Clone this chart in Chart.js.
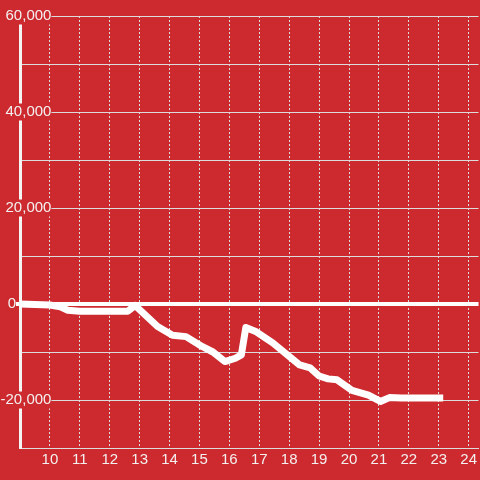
<!DOCTYPE html>
<html>
<head>
<meta charset="utf-8">
<script src="https://cdn.jsdelivr.net/npm/chart.js@4"></script>
<style>
  html, body { margin: 0; padding: 0; background: #cc2a2e; }
  #wrap { width: 480px; height: 480px; }
</style>
</head>
<body>
<div id="wrap"><canvas id="balanceChart"></canvas></div>
<script>
// hour of day and running balance
const hours = [9.0, 10.0, 10.35, 10.6, 11.0, 12.6, 12.85, 13.6, 14.1, 14.55, 15.1, 15.45, 15.85, 16.2, 16.4, 16.55, 16.9, 17.45, 18.35, 18.7, 19.0, 19.3, 19.6, 20.1, 20.65, 21.05, 21.35, 21.75, 23.15];
const balance = [0, -200, -600, -1300, -1500, -1500, -300, -4700, -6500, -6800, -8900, -10000, -12000, -11300, -10600, -4900, -5800, -8100, -12700, -13300, -15000, -15600, -15800, -18000, -19000, -20300, -19500, -19600, -19600];

const xMin = 9, xMax = 24.33;
const yMin = -30000, yMax = 60000;
const labelEdge = 10.05; // y labels end just right of the axis

const bg = '#cc2a2e';
const textColor = '#f4f0f0';
const gridColor = '#dcdcdc';
const font = { family: "'Liberation Sans', Arial, sans-serif", size: 15, lineHeight: 1.13 };

const points = hours.map((h, i) => ({ x: h, y: balance[i] }));

const ctx = document.getElementById('balanceChart').getContext('2d');
new Chart(ctx, {
    type: 'line',
    data: {
        datasets: [{
            data: points,
            borderColor: '#ffffff',
            borderWidth: 7,
            borderCapStyle: 'butt',
            borderJoinStyle: 'round',
            pointRadius: 0,
            tension: 0,
            fill: false
        }]
    },
    options: {
        responsive: true,
        maintainAspectRatio: false,
        animation: false,
        layout: {
            padding: { left: 0, top: 16, right: 0, bottom: 10 }
        },
        plugins: {
            legend: { display: false },
            tooltip: { enabled: false }
        },
        scales: {
            x: {
                type: 'linear',
                min: xMin,
                max: xMax,
                afterFit: (s) => { s.height = 22; },
                grid: {
                    color: gridColor,
                    lineWidth: 1,
                    drawTicks: false
                },
                border: {
                    color: gridColor,
                    width: 1,
                    dash: [2, 2]
                },
                ticks: {
                    stepSize: 1,
                    includeBounds: false,
                    autoSkip: false,
                    maxRotation: 0,
                    padding: 3,
                    color: textColor,
                    font: { family: font.family, size: 15 },
                    callback: (v) => v === xMin ? '' : v
                }
            },
            y: {
                min: yMin,
                max: yMax,
                afterFit: (s) => { s.width = 20; },
                grid: {
                    color: (c) => c.tick && c.tick.value === 0 ? '#ffffff' : gridColor,
                    lineWidth: (c) => c.tick && c.tick.value === 0 ? 4 : 1,
                    drawTicks: true,
                    tickLength: 4,
                    tickWidth: 4,
                    tickColor: (c) => c.tick && c.tick.value === 0 ? '#ffffff' : 'rgba(0,0,0,0)'
                },
                border: {
                    color: '#f4f4f4',
                    width: 3
                },
                ticks: {
                    stepSize: 10000,
                    padding: 0,
                    color: textColor,
                    showLabelBackdrop: true,
                    backdropColor: bg,
                    backdropPadding: 0,
                    font: font,
                    callback: (v) => v === 0 ? '0' : ''
                }
            },
            yLabels: {
                axis: 'y',
                position: { x: labelEdge },
                min: yMin,
                max: yMax,
                grid: { display: false },
                border: { display: false },
                ticks: {
                    stepSize: 10000,
                    padding: 0,
                    color: textColor,
                    showLabelBackdrop: true,
                    backdropColor: bg,
                    backdropPadding: 0,
                    font: font,
                    callback: (v) => v !== 0 && v % 20000 === 0 ? v.toLocaleString('en-US') : ''
                }
            }
        }
    }
});
</script>
</body>
</html>
